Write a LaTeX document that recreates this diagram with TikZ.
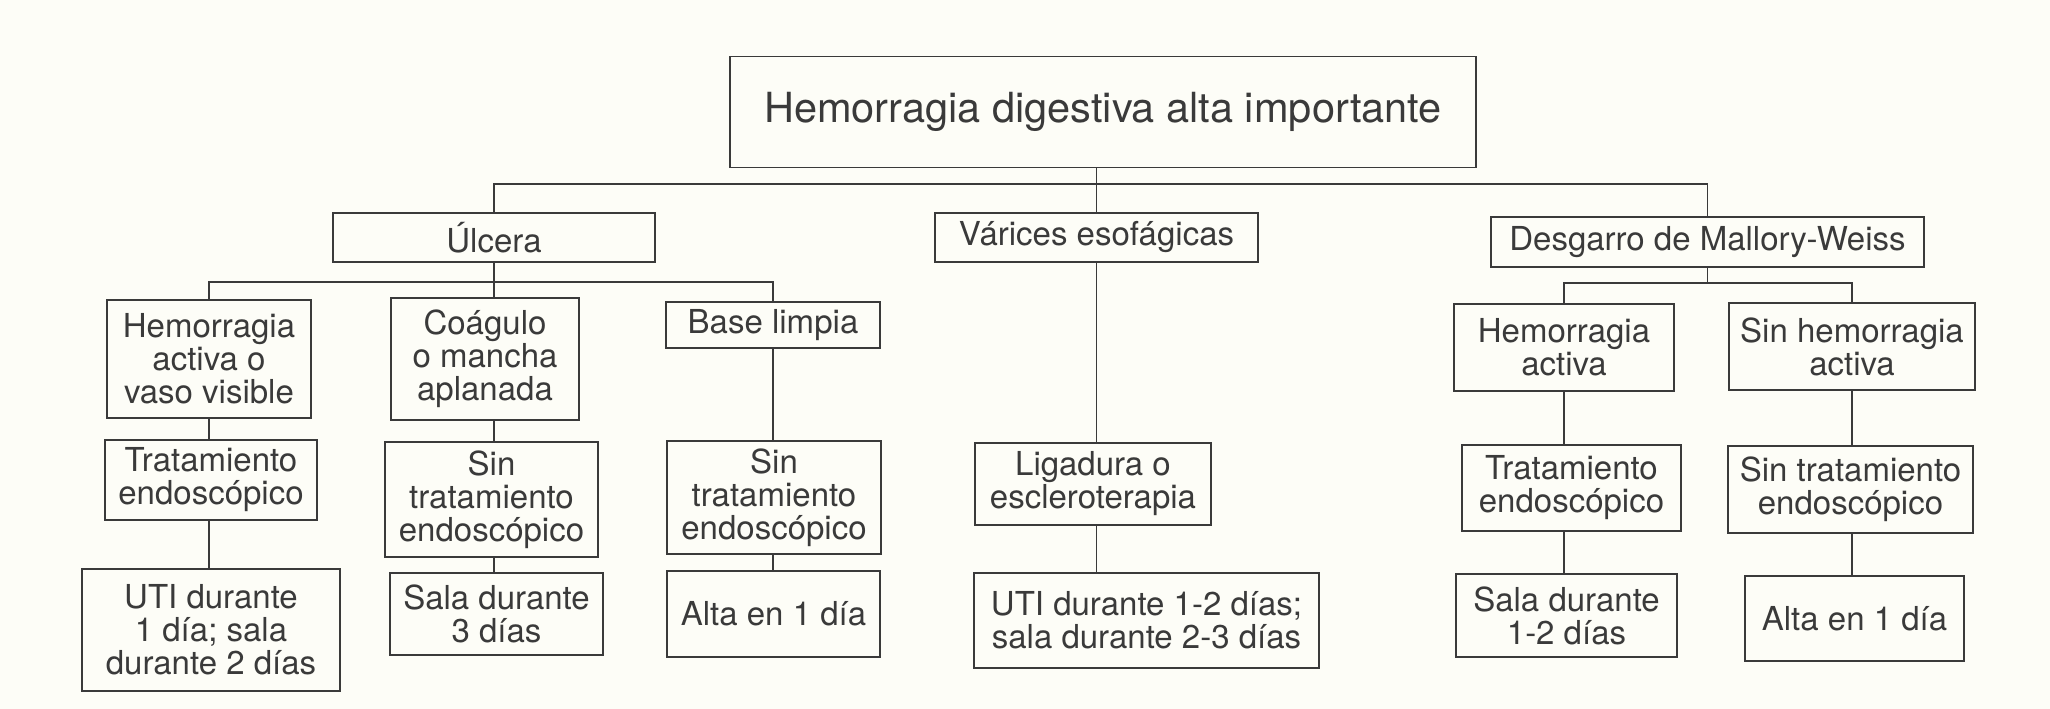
\documentclass[tikz,border=0pt]{standalone}
\usepackage{fontspec}
\setmainfont{TeX Gyre Heros}
\usetikzlibrary{arrows,positioning}

\definecolor{tinta}{RGB}{58,58,58}
\definecolor{papel}{RGB}{253,253,247}

\tikzset{
  caja/.style={draw=tinta, text=tinta, line width=1.8pt, inner sep=0pt,
    align=center, font=\fontsize{33}{33}\selectfont},
  rama/.style={draw=tinta, line width=1.8pt},
}

\begin{document}
\begin{tikzpicture}[x=1pt,y=-1pt]
\fill[papel] (0,0) rectangle (2050,709);
\useasboundingbox (0,0) rectangle (2050,709);
% raiz
\node[caja,minimum width=746pt,minimum height=111pt,
  font=\fontsize{41.5}{41.5}\selectfont] (hda) at (1103,112)
  {Hemorragia digestiva alta importante};
% nivel 1
\node[caja,minimum width=322pt,minimum height=49pt] (ulc) at (494,237.5) {Úlcera};
\node[caja,minimum width=323pt,minimum height=49pt] (var) at (1096.5,237.5) {Várices esofágicas};
\node[caja,minimum width=433pt,minimum height=50pt] (mw) at (1707.5,242) {Desgarro de Mallory-Weiss};
% ulcera
\node[caja,minimum width=204pt,minimum height=118pt] (hav) at (209,359) {Hemorragia\\activa o\\vaso visible};
\node[caja,minimum width=188pt,minimum height=122pt] (coag) at (485,359) {Coágulo\\o mancha\\aplanada};
\node[caja,minimum width=214pt,minimum height=46pt] (base) at (773,325) {Base limpia};
\node[caja,minimum width=212pt,minimum height=80pt] (te1) at (211,480) {Tratamiento\\endoscópico};
\node[caja,minimum width=213pt,minimum height=115pt] (ste1) at (491.5,499.5) {Sin\\tratamiento\\endoscópico};
\node[caja,minimum width=214pt,minimum height=113pt] (ste2) at (774,497.5) {Sin\\tratamiento\\endoscópico};
\node[caja,minimum width=258pt,minimum height=122pt] (uti1) at (211,630) {UTI durante\\1 día; sala\\durante 2 días};
\node[caja,minimum width=213pt,minimum height=82pt] (sala3) at (496.5,614) {Sala durante\\3 días};
\node[caja,minimum width=213pt,minimum height=86pt] (alta1) at (773.5,614) {Alta en 1 día};
% varices
\node[caja,minimum width=236pt,minimum height=82pt] (lig) at (1093,484) {Ligadura o\\escleroterapia};
\node[caja,minimum width=345pt,minimum height=95pt] (uti2) at (1146.5,620.5) {UTI durante 1-2 días;\\sala durante 2-3 días};
% mallory-weiss
\node[caja,minimum width=220pt,minimum height=87pt] (mha) at (1564,347.5) {Hemorragia\\activa};
\node[caja,minimum width=246pt,minimum height=87pt] (msha) at (1852,346.5) {Sin hemorragia\\activa};
\node[caja,minimum width=219pt,minimum height=86pt] (mte) at (1571.5,488) {Tratamiento\\endoscópico};
\node[caja,minimum width=245pt,minimum height=87pt] (mste) at (1850.5,489.5) {Sin tratamiento\\endoscópico};
\node[caja,minimum width=221pt,minimum height=83pt] (msala) at (1566.5,615.5) {Sala durante\\1-2 días};
\node[caja,minimum width=219pt,minimum height=85pt] (malta) at (1854.5,618.5) {Alta en 1 día};

% ramas
\coordinate (b1) at (0,184);
\coordinate (b2) at (0,282);
\coordinate (b3) at (0,283);
\draw[rama] (var.north) -- (var.north |- hda.south);
\draw[rama] (ulc.north) -- (ulc.north |- b1) -- (mw.north |- b1) -- (mw.north);
\draw[rama] (hav.north) -- (hav.north |- b2) -- (base.north |- b2) -- (base.north);
\draw[rama] (ulc.south) -- (ulc.south |- coag.north);
\draw[rama] (hav.south) -- (hav.south |- te1.north);
\draw[rama] (hav.south |- te1.south) -- (hav.south |- uti1.north);
\draw[rama] (ulc.south |- coag.south) -- (ulc.south |- ste1.north);
\draw[rama] (ulc.south |- ste1.south) -- (ulc.south |- sala3.north);
\draw[rama] (base.south) -- (base.south |- ste2.north);
\draw[rama] (base.south |- ste2.south) -- (base.south |- alta1.north);
\draw[rama] (var.south) -- (var.south |- lig.north);
\draw[rama] (var.south |- lig.south) -- (var.south |- uti2.north);
\draw[rama] (mw.south) -- (mw.south |- b3);
\draw[rama] (mha.north) -- (mha.north |- b3) -- (msha.north |- b3) -- (msha.north);
\draw[rama] (mha.south) -- (mha.south |- mte.north);
\draw[rama] (mha.south |- mte.south) -- (mha.south |- msala.north);
\draw[rama] (msha.south) -- (msha.south |- mste.north);
\draw[rama] (msha.south |- mste.south) -- (msha.south |- malta.north);
\end{tikzpicture}
\end{document}
